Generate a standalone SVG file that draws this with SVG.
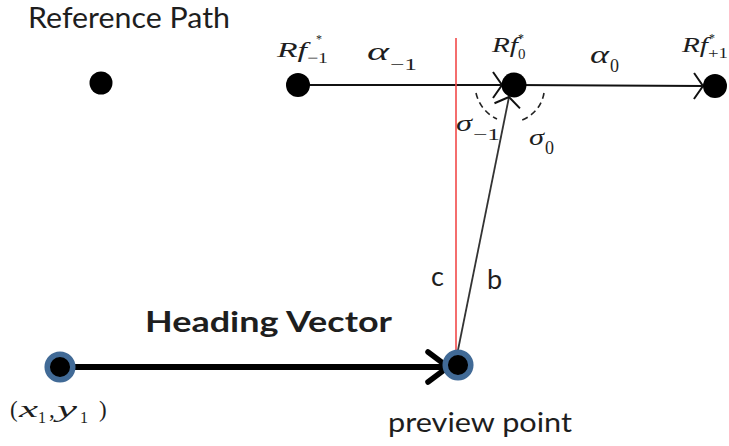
<svg xmlns="http://www.w3.org/2000/svg" width="729" height="446" viewBox="0 0 729 446">
<defs>
<style>
.lbl{font-family:Lato,"Open Sans","Liberation Sans",sans-serif;fill:#1e1e1e}
.m{font-family:"Liberation Serif","DejaVu Serif",serif;font-style:italic;fill:#1e1e1e}
.mn{font-family:"Liberation Serif","DejaVu Serif",serif;fill:#1e1e1e}
.dot{fill:#000}
.ring{fill:#000;stroke:#416a96;stroke-width:5.5}
.path{stroke:#111;stroke-width:2.2;fill:none}
.arc{stroke:#222;stroke-width:1.6;fill:none;stroke-dasharray:6 4}
</style>
<marker id="ah" markerUnits="userSpaceOnUse" markerWidth="30" markerHeight="30" viewBox="-15 -15 30 30" refX="0" refY="0" orient="auto" overflow="visible">
<path d="M-9,-13 L0,0 L-9,13" fill="none" stroke="#111" stroke-width="2"/>
</marker>
<marker id="ahb" markerUnits="userSpaceOnUse" markerWidth="40" markerHeight="40" viewBox="-20 -20 40 40" refX="0" refY="0" orient="auto" overflow="visible">
<path d="M-17,-15 L-1,-3 M-17,15 L-1,3" fill="none" stroke="#000" stroke-width="5.5" stroke-linecap="round"/>
</marker>
</defs>
<rect width="729" height="446" fill="#fff"/>

<text class="lbl" x="28" y="28" font-size="28" textLength="202" lengthAdjust="spacingAndGlyphs">Reference Path</text>

<g id="connectors">
<line class="path" x1="298" y1="85" x2="502" y2="85" marker-end="url(#ah)"/>
<line class="path" x1="514" y1="85" x2="703" y2="86" marker-end="url(#ah)"/>
<line x1="456" y1="38" x2="456" y2="360" stroke="#f24a4a" stroke-width="1.6"/>
<line x1="456" y1="360" x2="509" y2="97" stroke="#333" stroke-width="1.8" marker-end="url(#ah)"/>
<line x1="60" y1="367" x2="445" y2="367" stroke="#000" stroke-width="6" marker-end="url(#ahb)"/>
<path class="arc" d="M476,93 A38,38 0 0 0 497,119"/>
<path class="arc" d="M544,93 A35,35 0 0 1 519,121"/>
</g>

<g id="node-path0"><circle class="dot" cx="101" cy="83" r="11.5"/></g>
<g id="node-rfm1">
<circle class="dot" cx="298" cy="85" r="12"/>
<text class="m" x="277" y="57" font-size="21" textLength="30" lengthAdjust="spacingAndGlyphs">Rf</text>
<text class="mn" x="316" y="43" font-size="12">*</text>
<text class="mn" x="307" y="63" font-size="15" textLength="21" lengthAdjust="spacingAndGlyphs">−1</text>
</g>
<g id="node-rf0">
<circle class="dot" cx="514" cy="85" r="12.5"/>
<text class="m" x="492" y="52" font-size="20" textLength="26" lengthAdjust="spacingAndGlyphs">Rf</text>
<text class="mn" x="518" y="42" font-size="12">*</text>
<text class="mn" x="518" y="59" font-size="15">0</text>
</g>
<g id="node-rfp1">
<circle class="dot" cx="715" cy="86" r="12"/>
<text class="m" x="682" y="52" font-size="20" textLength="26" lengthAdjust="spacingAndGlyphs">Rf</text>
<text class="mn" x="709" y="42" font-size="12">*</text>
<text class="mn" x="708" y="58" font-size="15" textLength="20" lengthAdjust="spacingAndGlyphs">+1</text>
</g>

<g id="labels-angles">
<text class="m" x="367" y="60" font-size="26" textLength="22" lengthAdjust="spacingAndGlyphs">α</text>
<text class="mn" x="390" y="70" font-size="17" textLength="27" lengthAdjust="spacingAndGlyphs">−1</text>
<text class="m" x="590" y="63" font-size="26" textLength="19" lengthAdjust="spacingAndGlyphs">α</text>
<text class="mn" x="610" y="72" font-size="18">0</text>
<text class="m" x="456" y="131" font-size="24" textLength="16" lengthAdjust="spacingAndGlyphs">σ</text>
<text class="mn" x="473" y="140" font-size="17" textLength="27" lengthAdjust="spacingAndGlyphs">−1</text>
<text class="m" x="529" y="145" font-size="24" textLength="15" lengthAdjust="spacingAndGlyphs">σ</text>
<text class="mn" x="545" y="154" font-size="18">0</text>
</g>

<text class="lbl" x="431" y="286" font-size="27">c</text>
<text class="lbl" x="487" y="289" font-size="27">b</text>

<text class="lbl" x="145" y="332" font-size="28" font-weight="bold" textLength="247" lengthAdjust="spacingAndGlyphs">Heading Vector</text>

<g id="node-start">
<circle class="ring" cx="60" cy="367" r="12.8"/>
<text class="mn" x="10" y="417" font-size="23">(</text>
<text class="m" x="19" y="417" font-size="24" textLength="19" lengthAdjust="spacingAndGlyphs">x</text>
<text class="mn" x="38" y="423" font-size="16">1</text>
<text class="mn" x="49" y="417" font-size="23">,</text>
<text class="m" x="57" y="417" font-size="24" textLength="20" lengthAdjust="spacingAndGlyphs">y</text>
<text class="mn" x="80" y="423" font-size="16">1</text>
<text class="mn" x="99" y="417" font-size="23">)</text>
</g>

<g id="node-preview">
<circle class="ring" cx="458" cy="365" r="12.8"/>
<text class="lbl" x="388" y="432" font-size="26" textLength="184" lengthAdjust="spacingAndGlyphs">preview point</text>
</g>
</svg>
